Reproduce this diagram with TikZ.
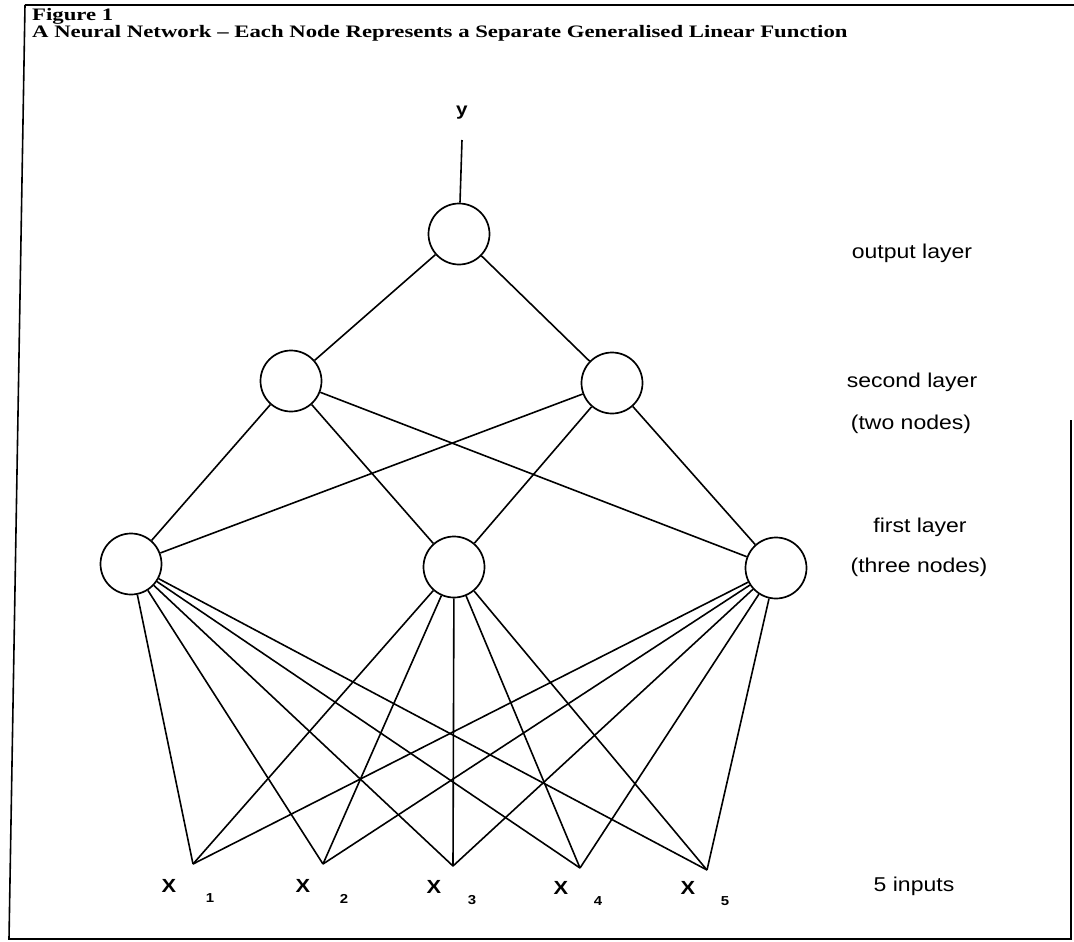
\documentclass[tikz,border=0pt]{standalone}
\usepackage{fontspec}
\setmainfont{Liberation Serif}
\newfontfamily\capfont[FakeStretch=1.3]{Liberation Serif}
\newfontfamily\lblfont[FakeStretch=1.15]{Liberation Sans}
\begin{document}
\begin{tikzpicture}[x=1pt,y=-1pt,
  neuron/.style={circle, draw, line width=1.7pt, minimum size=61pt, inner sep=0pt},
  wire/.style={line width=1.6pt},
  framepen/.style={line width=1.6pt},
  title/.style={anchor=base west, inner sep=0pt, font=\capfont\bfseries\fontsize{17.5}{20}\selectfont},
  layerlbl/.style={inner sep=0pt, font=\lblfont\fontsize{20}{24}\selectfont},
  xname/.style={inner sep=0pt, font=\lblfont\bfseries\fontsize{19}{22}\selectfont},
  xsub/.style={inner sep=0pt, font=\lblfont\bfseries\fontsize{13}{15}\selectfont}]
\useasboundingbox (0,0) rectangle (1074,942);

% frame round the figure
\draw[framepen] (25,5) -- (1074,5);
\draw[framepen] (25,5) -- (9,939) -- (1071,939) -- (1071,420);

% caption
\node[title] (cap1) at (32,21) {Figure 1};
\node[title] (cap2) at (32,38) {A Neural Network – Each Node Represents a Separate Generalised Linear Function};

% network nodes
\node[neuron] (o)  at (459,234) {};
\node[neuron] (s1) at (291,381) {};
\node[neuron] (s2) at (612,383) {};
\node[neuron] (h1) at (131,564) {};
\node[neuron] (h2) at (454,567) {};
\node[neuron] (h3) at (776,568) {};

% input points
\coordinate (i1) at (193,864);
\coordinate (i2) at (323,864);
\coordinate (i3) at (453,866);
\coordinate (i4) at (580,868);
\coordinate (i5) at (707,870);

% output
\node[inner sep=0pt, font=\lblfont\bfseries\fontsize{18}{20}\selectfont] (y) at (462,113) {y};
\coordinate (ytop) at (462,140);
\draw[wire] (o) -- (ytop);

% connections
\draw[wire] (o) -- (s1);
\draw[wire] (o) -- (s2);
\foreach \s in {s1,s2}
  \foreach \h in {h1,h2,h3}
    \draw[wire] (\s) -- (\h);
\foreach \h in {h1,h2,h3}
  \foreach \i in {i1,i2,i3,i4,i5}
    \draw[wire] (\h) -- (\i);

% input labels
\node[xname] (x1) at (169,886) {X};  \node[xsub] (n1) at (210,898) {1};
\node[xname] (x2) at (303,886) {X};  \node[xsub] (n2) at (344,899) {2};
\node[xname] (x3) at (434,887) {X};  \node[xsub] (n3) at (472,900) {3};
\node[xname] (x4) at (561,888) {X};  \node[xsub] (n4) at (598,901) {4};
\node[xname] (x5) at (688,888) {X};  \node[xsub] (n5) at (725,901) {5};

% layer labels
\node[layerlbl] (lo)  at (912,253) {output layer};
\node[layerlbl] (ls1) at (912,382) {second layer};
\node[layerlbl] (ls2) at (911,424) {(two nodes)};
\node[layerlbl] (lf1) at (920,527) {first layer};
\node[layerlbl] (lf2) at (919,567) {(three nodes)};
\node[layerlbl] (li)  at (914,886) {5 inputs};
\end{tikzpicture}
\end{document}
